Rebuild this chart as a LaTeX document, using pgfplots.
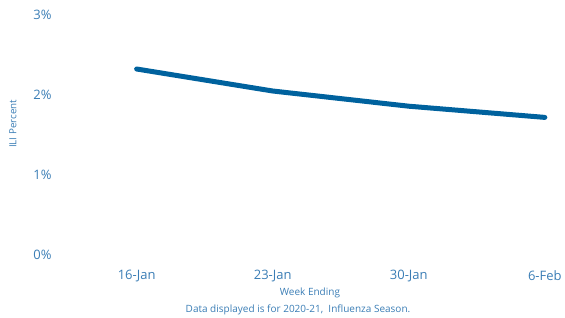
\documentclass[border=0pt]{standalone}
\usepackage{pgfplots}
\pgfplotsset{compat=1.18}
\usepackage{fontspec}
\setmainfont{Open Sans}
\definecolor{linec}{HTML}{00629E}
\definecolor{txtc}{HTML}{3A7DB5}
\begin{document}
\begin{tikzpicture}
\path[use as bounding box] (-55pt,-62pt) rectangle (510pt,255pt);
\begin{axis}[
  at={(0,0)}, anchor=south west,
  scale only axis, width=498pt, height=240pt,
  xmin=-0.6, xmax=3.06, ymin=0, ymax=3,
  xtick={0,1,2,3}, xticklabels={16-Jan,23-Jan,30-Jan,6-Feb},
  ytick={0,1,2,3}, yticklabels={0\%,1\%,2\%,3\%},
  axis line style={draw=none}, tick style={draw=none},
  ticklabel style={text=txtc, font=\fontsize{13pt}{15pt}\selectfont},
  xticklabel style={yshift=-12pt},
  xlabel={Week Ending}, xlabel style={text=txtc, font=\fontsize{10pt}{12pt}\selectfont, at={(axis description cs:0.512,0)}, anchor=center, yshift=-38pt},
  ylabel={ILI Percent}, ylabel style={text=txtc, font=\fontsize{9.8pt}{11pt}\selectfont, at={(axis description cs:0,0.546)}, anchor=center, yshift=42pt},
  clip=false,
]
\addplot[linec, line width=5pt, line cap=round, line join=round] coordinates {(0,2.325) (1,2.05) (2,1.86) (3,1.72)};
\end{axis}
\node[text=txtc, font=\fontsize{10pt}{12pt}\selectfont] at (243pt,-55pt) {Data displayed is for 2020-21,\ \ Influenza Season.};
\end{tikzpicture}
\end{document}
